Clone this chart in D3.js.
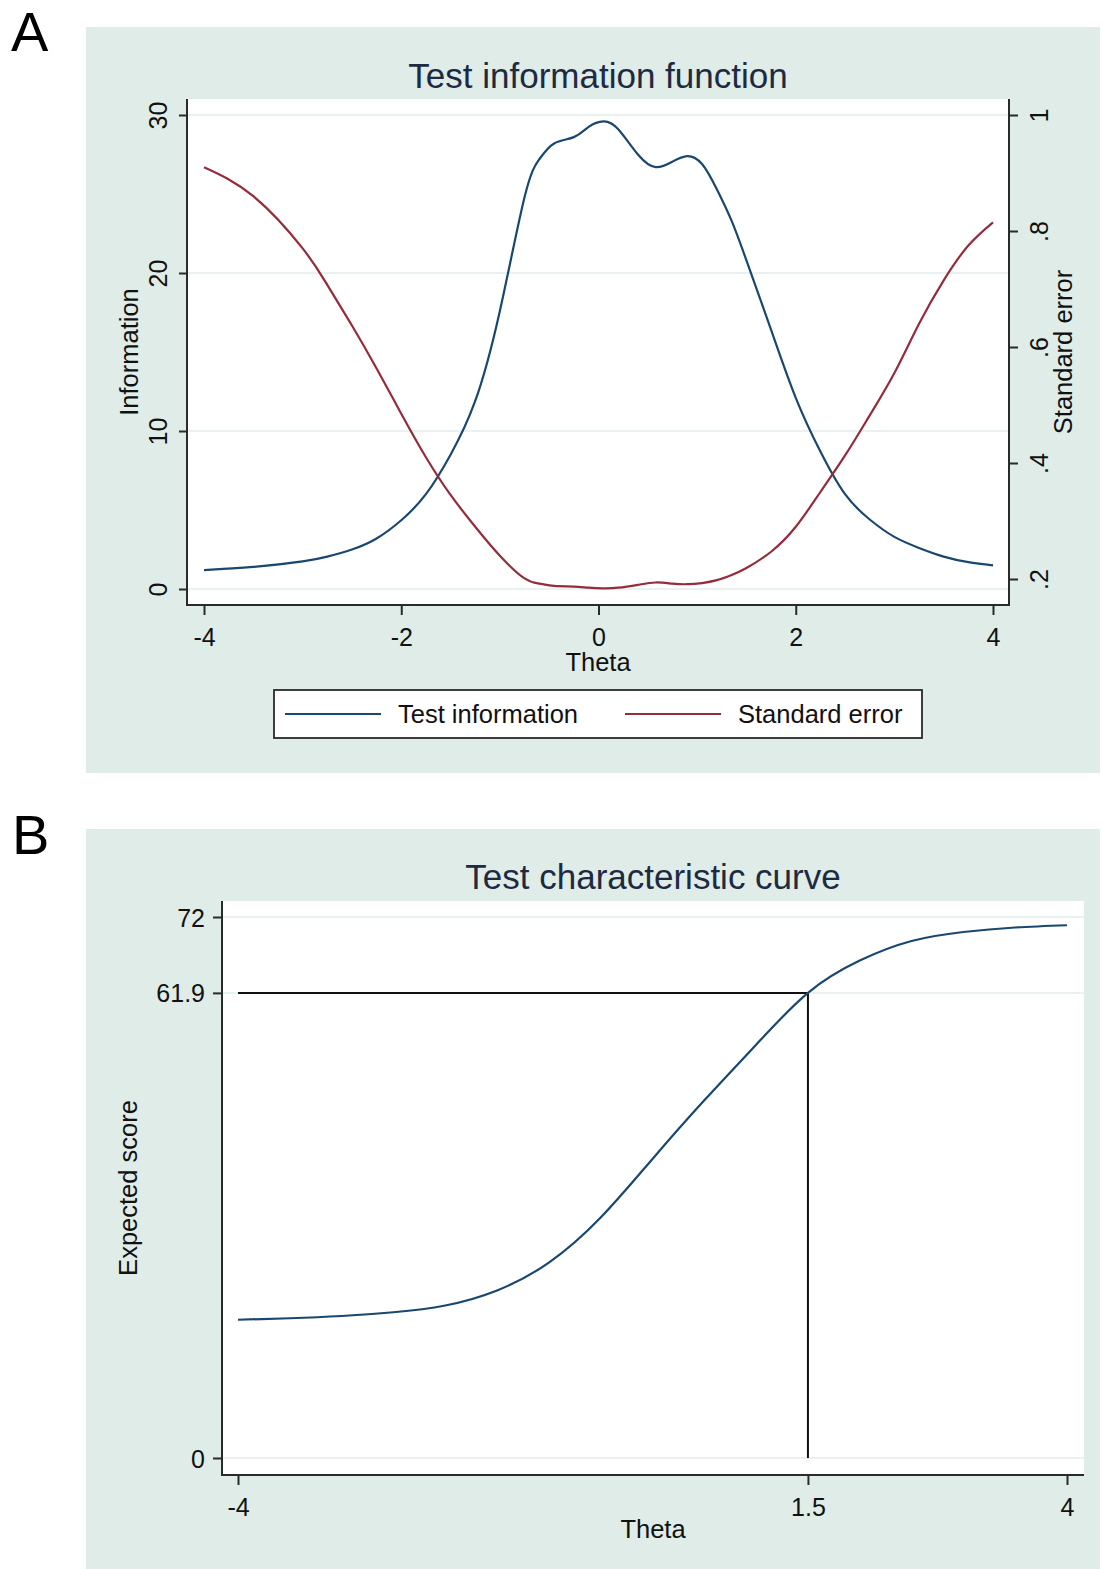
<!DOCTYPE html>
<html>
<head>
<meta charset="utf-8">
<title>Test information function / Test characteristic curve</title>
<script src="https://cdn.jsdelivr.net/npm/d3@7"></script>
<style>
  body { margin: 0; background: #ffffff; }
  svg { display: block; font-family: "Liberation Sans", Arial, sans-serif; }
  .panelBg { fill: #dfece8; }
  .plotBg { fill: #ffffff; }
  .grid line { stroke: #e2eded; stroke-width: 1.5; }
  .axisLine { stroke: #2a2a2a; stroke-width: 2; }
  .tick line { stroke: #2a2a2a; stroke-width: 2; }
  .tick text { fill: #111; font-size: 25px; }
  .chartTitle { fill: #1d2a42; font-size: 35px; }
  .axisTitle { fill: #111; font-size: 25.5px; }
  .panelLetter { fill: #000; font-size: 56px; }
</style>
</head>
<body>
<script>
//panel A data: test information function
var theta = [-4, -3.5, -3, -2.75, -2.5, -2.25, -2, -1.75, -1.5, -1.25, -1, -0.75, -0.6, -0.45, -0.25, -0.1,
             0.05, 0.2, 0.4, 0.58, 0.75, 0.9, 1.05, 1.2, 1.35, 1.5, 1.75, 2, 2.25, 2.5, 2.75, 3, 3.25, 3.5, 3.75, 4];
var information = [1.2, 1.4, 1.75, 2.05, 2.5, 3.2, 4.35, 6.0, 8.5, 11.9, 17.6, 24.8, 27.2, 28.2, 28.6, 29.25,
                   29.6, 29.1, 27.5, 26.7, 27.05, 27.4, 26.9, 25.3, 23.3, 20.8, 16.4, 12.1, 8.7, 6.0, 4.4, 3.3, 2.6, 2.05, 1.7, 1.5];
var standardError = [0.91, 0.86, 0.77, 0.707, 0.637, 0.563, 0.485, 0.41, 0.345, 0.29, 0.24, 0.201, 0.192, 0.188, 0.187, 0.185,
                     0.184, 0.185, 0.19, 0.194, 0.192, 0.191, 0.193, 0.198, 0.207, 0.219, 0.247, 0.29, 0.35, 0.413, 0.482, 0.555, 0.64, 0.715, 0.775, 0.815];

//panel B data: test characteristic curve
var thetaB = [-4, -3.5, -3, -2.5, -2, -1.5, -1, -0.5, 0, 0.5, 1, 1.5, 2, 2.5, 3, 3.5, 4];
var expectedScore = [18.4, 18.6, 18.9, 19.4, 20.3, 22.3, 26.0, 32.0, 39.8, 47.6, 55.0, 61.9, 66.2, 68.8, 70.0, 70.6, 70.9];
var cutTheta = 1.5,
    cutScore = 61.9;

//tick values and labels
var thetaTicks = [-4, -2, 0, 2, 4];
var infoTicks = [0, 10, 20, 30];
var seTicks = [0.2, 0.4, 0.6, 0.8, 1];
var seTickLabels = ['.2', '.4', '.6', '.8', '1'];
var thetaTicksB = [-4, 1.5, 4];
var scoreTicks = [0, 61.9, 72];

var legendLabels = ['Test information', 'Standard error'];
var navy = '#1a476f',
    maroon = '#962b3c';

window.onload = drawCharts();

function drawCharts(){
    var width = 1102,
        height = 1569;

    var svg = d3.select('body')
        .append('svg')
        .attr('width', width)
        .attr('height', height);

    drawPanelA(svg);
    drawPanelB(svg);
};

//plain labels, hyphen minus like the original
function plain(d){ return String(d); }

function drawPanelA(svg){
    //plot region
    var left = 187, right = 1009, top = 99, bottom = 605;

    var x = d3.scaleLinear().domain([-4, 4]).range([204, 993]);
    var yInfo = d3.scaleLinear().domain([0, 30]).range([589, 115]);
    var ySe = d3.scaleLinear().domain([0.2, 1]).range([579, 115]);

    svg.append('text')
        .attr('class', 'panelLetter')
        .attr('x', 11)
        .attr('y', 51)
        .text('A');

    svg.append('rect')
        .attr('class', 'panelBg')
        .attr('x', 86).attr('y', 27)
        .attr('width', 1014).attr('height', 746);

    svg.append('rect')
        .attr('class', 'plotBg')
        .attr('x', left).attr('y', top)
        .attr('width', right - left).attr('height', bottom - top);

    svg.append('text')
        .attr('class', 'chartTitle')
        .attr('x', (left + right) / 2)
        .attr('y', 88)
        .attr('text-anchor', 'middle')
        .text('Test information function');

    //gridlines on the information axis
    svg.append('g')
        .attr('class', 'grid')
        .selectAll('line')
        .data(infoTicks)
        .enter()
        .append('line')
        .attr('x1', left).attr('x2', right)
        .attr('y1', function(d){ return yInfo(d); })
        .attr('y2', function(d){ return yInfo(d); });

    var infoLine = d3.line()
        .x(function(d, i){ return x(theta[i]); })
        .y(function(d){ return yInfo(d); })
        .curve(d3.curveNatural);

    var seLine = d3.line()
        .x(function(d, i){ return x(theta[i]); })
        .y(function(d){ return ySe(d); })
        .curve(d3.curveNatural);

    svg.append('path')
        .datum(information)
        .attr('d', infoLine)
        .attr('fill', 'none')
        .attr('stroke', navy)
        .attr('stroke-width', 2.2);

    svg.append('path')
        .datum(standardError)
        .attr('d', seLine)
        .attr('fill', 'none')
        .attr('stroke', maroon)
        .attr('stroke-width', 2.2);

    //axes
    var leftAxis = svg.append('g')
        .attr('transform', 'translate(' + left + ',0)')
        .call(d3.axisLeft(yInfo).tickValues(infoTicks).tickSize(8).tickFormat(plain));
    leftAxis.select('.domain').remove();
    leftAxis.selectAll('.tick text')
        .attr('transform', 'rotate(-90)')
        .attr('x', 0).attr('y', -20).attr('dy', 0)
        .attr('text-anchor', 'middle');

    var rightAxis = svg.append('g')
        .attr('transform', 'translate(' + right + ',0)')
        .call(d3.axisRight(ySe).tickValues(seTicks).tickSize(9)
            .tickFormat(function(d, i){ return seTickLabels[i]; }));
    rightAxis.select('.domain').remove();
    rightAxis.selectAll('.tick text')
        .attr('transform', 'rotate(-90)')
        .attr('x', 0).attr('y', 39).attr('dy', 0)
        .attr('text-anchor', 'middle');

    var bottomAxis = svg.append('g')
        .attr('transform', 'translate(0,' + bottom + ')')
        .call(d3.axisBottom(x).tickValues(thetaTicks).tickSize(10).tickFormat(plain));
    bottomAxis.select('.domain').remove();
    bottomAxis.selectAll('.tick text')
        .attr('y', 41).attr('dy', 0);

    //frame lines (no top line)
    svg.append('path')
        .attr('class', 'axisLine')
        .attr('fill', 'none')
        .attr('d', 'M' + left + ',' + top + 'V' + bottom + 'H' + right + 'V' + top);

    //axis titles
    svg.append('text')
        .attr('class', 'axisTitle')
        .attr('text-anchor', 'middle')
        .attr('transform', 'translate(' + ((left + right) / 2) + ',671)')
        .text('Theta');

    svg.append('text')
        .attr('class', 'axisTitle')
        .attr('text-anchor', 'middle')
        .attr('transform', 'translate(138,' + ((top + bottom) / 2) + ') rotate(-90)')
        .text('Information');

    svg.append('text')
        .attr('class', 'axisTitle')
        .attr('text-anchor', 'middle')
        .attr('transform', 'translate(1072,' + ((top + bottom) / 2) + ') rotate(-90)')
        .text('Standard error');

    //legend
    var legend = svg.append('g');
    legend.append('rect')
        .attr('x', 274).attr('y', 690)
        .attr('width', 648).attr('height', 48)
        .attr('fill', '#ffffff')
        .attr('stroke', '#2a2a2a')
        .attr('stroke-width', 1.8);

    var legendItems = legend.selectAll('.legendItem')
        .data(legendLabels)
        .enter()
        .append('g')
        .attr('class', 'legendItem')
        .attr('transform', function(d, i){ return 'translate(' + (285 + i * 340) + ',714)'; });

    legendItems.append('line')
        .attr('x1', 0).attr('x2', 96)
        .attr('stroke', function(d, i){ return i === 0 ? navy : maroon; })
        .attr('stroke-width', 2.2);

    legendItems.append('text')
        .attr('x', 113)
        .attr('y', 9)
        .attr('fill', '#111')
        .style('font-size', '25.5px')
        .text(function(d){ return d; });
};

function drawPanelB(svg){
    var left = 222, right = 1084, top = 901, bottom = 1475;

    var x = d3.scaleLinear().domain([-4, 4]).range([238, 1067]);
    var y = d3.scaleLinear().domain([0, 72]).range([1458, 917]);

    svg.append('text')
        .attr('class', 'panelLetter')
        .attr('x', 12)
        .attr('y', 854)
        .text('B');

    svg.append('rect')
        .attr('class', 'panelBg')
        .attr('x', 86).attr('y', 829)
        .attr('width', 1014).attr('height', 740);

    svg.append('rect')
        .attr('class', 'plotBg')
        .attr('x', left).attr('y', top)
        .attr('width', right - left).attr('height', bottom - top);

    svg.append('text')
        .attr('class', 'chartTitle')
        .attr('x', (left + right) / 2)
        .attr('y', 889)
        .attr('text-anchor', 'middle')
        .text('Test characteristic curve');

    svg.append('g')
        .attr('class', 'grid')
        .selectAll('line')
        .data(scoreTicks)
        .enter()
        .append('line')
        .attr('x1', left).attr('x2', right)
        .attr('y1', function(d){ return y(d); })
        .attr('y2', function(d){ return y(d); });

    //reference lines at theta = 1.5, score = 61.9
    svg.append('path')
        .attr('fill', 'none')
        .attr('stroke', '#111')
        .attr('stroke-width', 2)
        .attr('d', 'M' + x(-4) + ',' + y(cutScore) + 'H' + x(cutTheta) + 'V' + y(0));

    var tccLine = d3.line()
        .x(function(d, i){ return x(thetaB[i]); })
        .y(function(d){ return y(d); })
        .curve(d3.curveNatural);

    svg.append('path')
        .datum(expectedScore)
        .attr('d', tccLine)
        .attr('fill', 'none')
        .attr('stroke', navy)
        .attr('stroke-width', 2.2);

    var leftAxis = svg.append('g')
        .attr('transform', 'translate(' + left + ',0)')
        .call(d3.axisLeft(y).tickValues(scoreTicks).tickSize(9).tickFormat(plain));
    leftAxis.select('.domain').remove();
    leftAxis.selectAll('.tick text')
        .attr('x', -17).attr('dy', '0.36em');

    var bottomAxis = svg.append('g')
        .attr('transform', 'translate(0,' + bottom + ')')
        .call(d3.axisBottom(x).tickValues(thetaTicksB).tickSize(10).tickFormat(plain));
    bottomAxis.select('.domain').remove();
    bottomAxis.selectAll('.tick text')
        .attr('y', 41).attr('dy', 0);

    svg.append('path')
        .attr('class', 'axisLine')
        .attr('fill', 'none')
        .attr('d', 'M' + left + ',' + top + 'V' + bottom + 'H' + right);

    svg.append('text')
        .attr('class', 'axisTitle')
        .attr('text-anchor', 'middle')
        .attr('transform', 'translate(' + ((left + right) / 2) + ',1538)')
        .text('Theta');

    svg.append('text')
        .attr('class', 'axisTitle')
        .attr('text-anchor', 'middle')
        .attr('transform', 'translate(137,' + ((top + bottom) / 2) + ') rotate(-90)')
        .text('Expected score');
};
</script>
</body>
</html>
